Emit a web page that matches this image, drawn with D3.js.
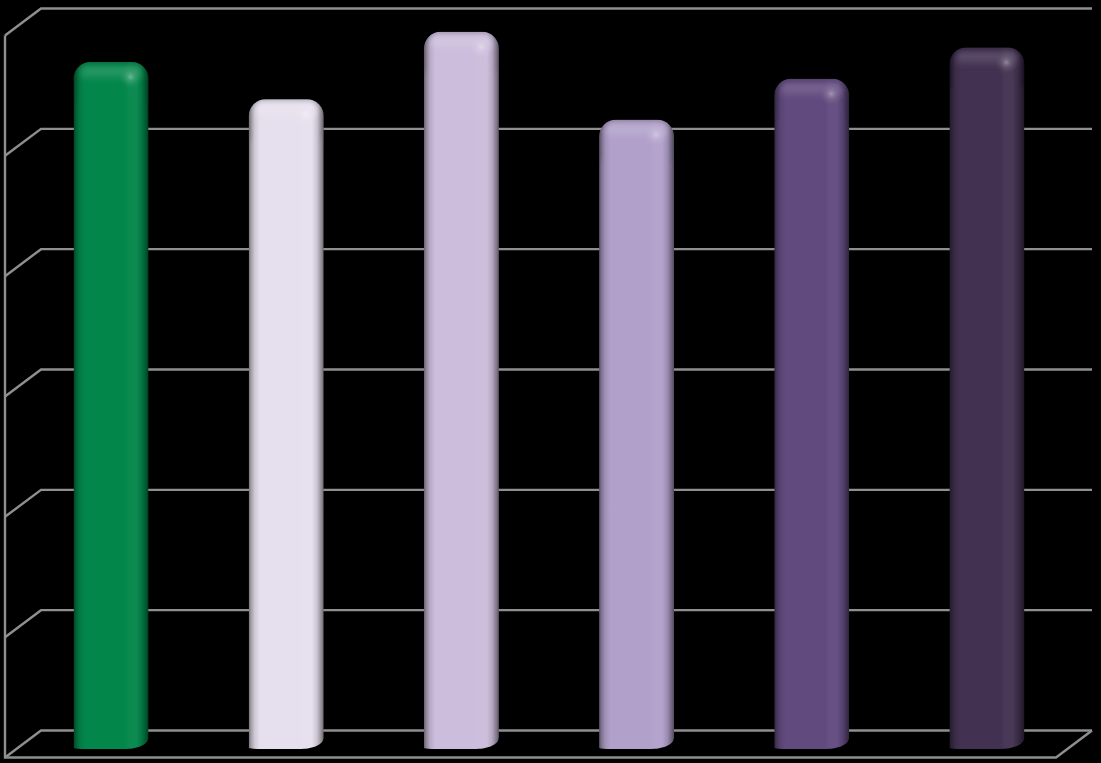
<!DOCTYPE html>
<html><head><meta charset="utf-8">
<script src="https://cdn.jsdelivr.net/npm/d3@7"></script>
<style>html,body{margin:0;padding:0;background:#000}svg{display:block}</style>
</head><body><svg id="c" width="1101" height="763"></svg>
<script>
const categories = ["A","B","C","D","E","F"];
const values = [5.71,5.40,5.96,5.23,5.57,5.83];
const colors = ["#03864a","#e6dfed","#cbbddb","#b1a0ca","#614a7e","#423150"];
const ticks = [0,1,2,3,4,5,6];

const W=1101,H=763;
const depthX=36, depthY=27, floorL=5, floorR=1056, floorY=757.5;
const svg=d3.select("#c");
const defs=svg.append("defs");
svg.append("rect").attr("width",W).attr("height",H).attr("fill","#000");
defs.append("filter").attr("id","blur").attr("x","-30%").attr("y","-30%").attr("width","160%").attr("height","160%")
  .append("feGaussianBlur").attr("stdDeviation",2.6);
defs.append("filter").attr("id","soft").attr("x","-30%").attr("y","-60%").attr("width","160%").attr("height","220%")
  .append("feGaussianBlur").attr("stdDeviation",3.5);

const yGrid=d3.scaleLinear().domain([0,6]).range([floorY-depthY,8.5]);
const yBar=d3.scaleLinear().domain([0,6]).range([749,27]);
const x=d3.scaleBand().domain(categories).range([floorL+18.5,floorR+18.5]).paddingInner(0.5717).paddingOuter(0.2858);

const grid=svg.append("g").attr("fill","none").attr("stroke","#8f8f8f").attr("stroke-width",2.4);
ticks.forEach(t=>{
  const yy=yGrid(t);
  const p=d3.path();
  p.moveTo(floorL,yy+depthY);p.lineTo(floorL+depthX,yy);p.lineTo(floorR+depthX,yy);
  grid.append("path").attr("d",p.toString());
});
const wall=d3.path();
wall.moveTo(floorL,yGrid(6)+depthY);wall.lineTo(floorL,floorY);wall.lineTo(floorR,floorY);wall.lineTo(floorR+depthX,yGrid(0));
grid.append("path").attr("d",wall.toString());

function shade(c,k){const h=d3.color(c);return (k>=0?d3.interpolateRgb(h,"#fff")(k):d3.interpolateRgb(h,"#000")(-k));}

const hs=[[0,-.5],[.03,-.3],[.08,-.1],[.15,0],[.68,0],[.74,.035],[.84,.035],[.91,-.12],[.97,-.38],[1,-.55]];
categories.forEach((cat,i)=>{
  const c=colors[i];
  const g=defs.append("linearGradient").attr("id","h"+i);
  hs.forEach(s=>g.append("stop").attr("offset",s[0]).attr("stop-color",shade(c,s[1])));
  const r=defs.append("radialGradient").attr("id","r"+i);
  r.append("stop").attr("offset",0).attr("stop-color",shade(c,.45)).attr("stop-opacity",.9);
  r.append("stop").attr("offset",.4).attr("stop-color",shade(c,.28)).attr("stop-opacity",.5);
  r.append("stop").attr("offset",1).attr("stop-color",shade(c,.1)).attr("stop-opacity",0);
  const cl=defs.append("clipPath").attr("id","cl"+i);
  const bx=x(cat),bw=x.bandwidth(),top=yBar(values[i]),bot=yBar(0);
  const rad=17;
  const p=d3.path();
  p.moveTo(bx,bot-1);
  p.lineTo(bx,top+rad);
  p.arcTo(bx,top,bx+rad,top,rad);
  p.lineTo(bx+bw-rad,top);
  p.arcTo(bx+bw,top,bx+bw,top+rad,rad);
  p.lineTo(bx+bw,bot-12);
  p.bezierCurveTo(bx+bw,bot-3,bx+bw-14,bot,bx+bw-24,bot);
  p.lineTo(bx+12,bot);
  p.quadraticCurveTo(bx+3,bot,bx,bot-1);
  p.closePath();
  cl.append("path").attr("d",p.toString());
  const rim=d3.path();
  rim.moveTo(bx-1,top+40);
  rim.lineTo(bx-1,top+rad);
  rim.arcTo(bx-1,top-1,bx+rad,top-1,rad);
  rim.lineTo(bx+bw-rad,top-1);
  rim.arcTo(bx+bw+1,top-1,bx+bw+1,top+rad,rad);
  rim.lineTo(bx+bw+1,top+40);
  const b=svg.append("g").attr("clip-path",`url(#cl${i})`);
  b.append("rect").attr("x",bx).attr("y",top).attr("width",bw).attr("height",bot-top).attr("fill",`url(#h${i})`);
  b.append("rect").attr("x",bx+7).attr("y",top+4).attr("width",bw-14).attr("height",11)
    .attr("fill",shade(c,.22)).attr("fill-opacity",.6).attr("filter","url(#soft)");
  b.append("path").attr("d",rim.toString()).attr("fill","none").attr("stroke",shade(c,-.6)).attr("stroke-opacity",.5).attr("stroke-width",4).attr("filter","url(#blur)");
  b.append("ellipse").attr("cx",bx+bw*0.76).attr("cy",top+15).attr("rx",12).attr("ry",12).attr("fill",`url(#r${i})`);
});
</script></body></html>
